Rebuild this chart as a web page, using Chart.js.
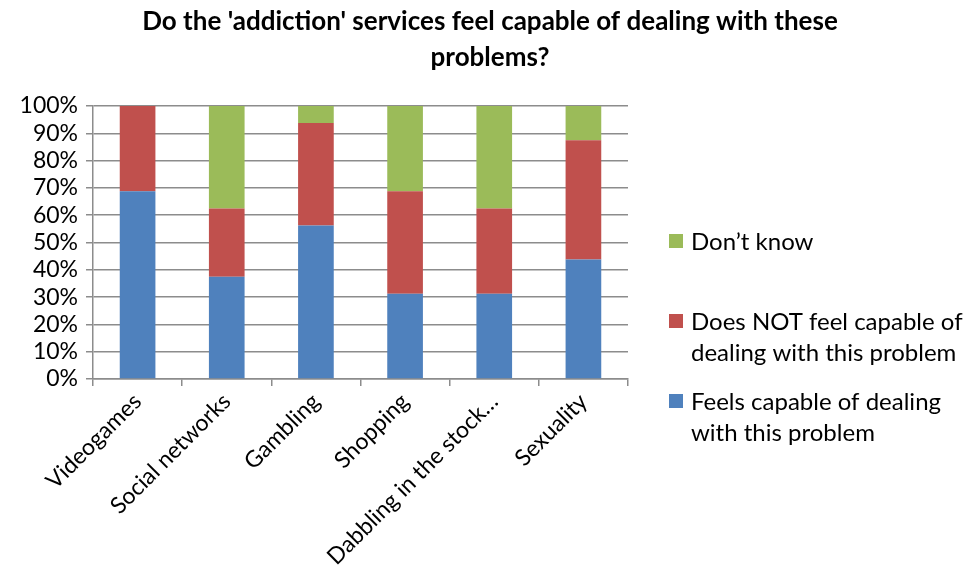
<!DOCTYPE html>
<html lang="en">
<head>
    <meta charset="UTF-8">
    <title>Addiction services survey</title>
    <style>
        body { margin: 0; background: white; }
        .wrap { width: 968px; height: 576px; position: relative; }
    </style>
    <script src="https://cdn.jsdelivr.net/npm/chart.js"></script>
</head>
<body>
    <div class="wrap">
        <canvas id="surveyChart" width="968" height="576"></canvas>
    </div>

    <script>
        const categories = ['Videogames', 'Social networks', 'Gambling', 'Shopping', 'Dabbling in the stock\u2026', 'Sexuality'];
        const feelsCapable = [68.75, 37.5, 56.25, 31.25, 31.25, 43.75];
        const notCapable = [31.25, 25, 37.5, 37.5, 31.25, 43.75];
        const dontKnow = [0, 37.5, 6.25, 31.25, 37.5, 12.5];
        const seriesNames = ['Feels capable of dealing\nwith this problem', 'Does NOT feel capable of\ndealing with this problem', 'Don\u2019t know'];
        const titleLines = ["Do the 'addiction' services feel capable of dealing with these", 'problems?'];

        const FONT = 'Lato, "Noto Sans", sans-serif';
        const gridGray = '#8c8c8c';

        // title spans the whole canvas, not just the plot + padding
        const wideTitle = {
            id: 'wideTitle',
            afterDraw(chart) {
                const ctx = chart.ctx;
                ctx.save();
                ctx.font = 'bold 26px ' + FONT;
                ctx.fillStyle = '#000';
                ctx.textAlign = 'center';
                ctx.textBaseline = 'middle';
                titleLines.forEach((line, i) => ctx.fillText(line, 490, 22 + i * 36));
                ctx.restore();
            }
        };

        // legend on the right, one entry per series, wrapped labels
        const sideLegend = {
            id: 'sideLegend',
            afterDraw(chart) {
                const ctx = chart.ctx;
                const tops = [394, 314, 234];
                ctx.save();
                ctx.font = '24px ' + FONT;
                ctx.textBaseline = 'middle';
                chart.data.datasets.forEach((ds, i) => {
                    const y = tops[i];
                    ctx.fillStyle = ds.backgroundColor;
                    ctx.fillRect(669, y, 14, 14);
                    ctx.fillStyle = '#000';
                    ds.label.split('\n').forEach((line, j) => {
                        ctx.fillText(line, 691, y + 8 + j * 31);
                    });
                });
                ctx.restore();
            }
        };

        new Chart(document.getElementById('surveyChart'), {
            type: 'bar',
            data: {
                labels: categories,
                datasets: [
                    { label: seriesNames[0], data: feelsCapable, backgroundColor: '#4f81bd' },
                    { label: seriesNames[1], data: notCapable, backgroundColor: '#c0504d' },
                    { label: seriesNames[2], data: dontKnow, backgroundColor: '#9bbb59' }
                ]
            },
            options: {
                responsive: false,
                animation: false,
                layout: { padding: { left: 0, right: 340, top: 106, bottom: 0 } },
                datasets: { bar: { categoryPercentage: 1, barPercentage: 0.4 } },
                plugins: {
                    legend: { display: false },
                    tooltip: { enabled: false },
                    title: { display: false }
                },
                scales: {
                    x: {
                        stacked: true,
                        afterFit(scale) { scale.height = 197; },
                        border: { color: gridGray, width: 1.5 },
                        grid: { drawOnChartArea: false, drawTicks: true, tickLength: 7, color: gridGray, lineWidth: 1.5 },
                        ticks: {
                            autoSkip: false,
                            minRotation: 45,
                            maxRotation: 45,
                            color: '#000',
                            padding: 2,
                            font: { family: FONT, size: 23 }
                        }
                    },
                    y: {
                        stacked: true,
                        min: 0,
                        max: 100,
                        afterFit(scale) { scale.width = 93; },
                        border: { color: gridGray, width: 1.5 },
                        grid: { color: gridGray, lineWidth: 1.5, tickLength: 7 },
                        ticks: {
                            stepSize: 10,
                            autoSkip: false,
                            color: '#000',
                            padding: 8,
                            font: { family: FONT, size: 23 },
                            callback: v => v + '%'
                        }
                    }
                }
            },
            plugins: [wideTitle, sideLegend]
        });
    </script>
</body>
</html>
